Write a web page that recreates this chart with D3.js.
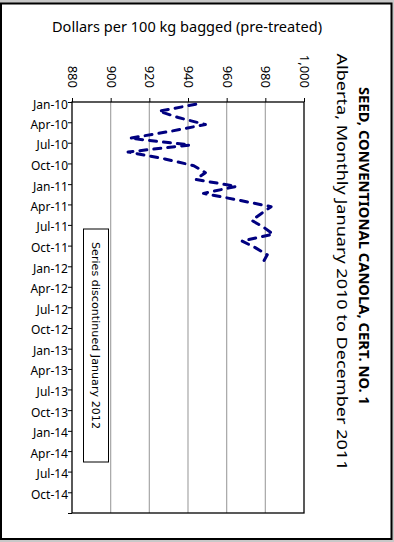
<!DOCTYPE html>
<html>
<head>
<meta charset="utf-8">
<script src="https://cdn.jsdelivr.net/npm/d3@7"></script>
<style>
  html, body { margin: 0; padding: 0; background: #c8c8c8; }
  svg { display: block; }
  text { font-family: "Noto Sans", "DejaVu Sans", sans-serif; fill: #000; }
</style>
</head>
<body>
<svg id="chart" width="394" height="542"></svg>
<script>
// ---- data ----
const months = ["2010-01","2010-02","2010-03","2010-04","2010-05","2010-06",
                "2010-07","2010-08","2010-09","2010-10","2010-11","2010-12",
                "2011-01","2011-02","2011-03","2011-04","2011-05","2011-06",
                "2011-07","2011-08","2011-09","2011-10","2011-11","2011-12"];
const prices = [944, 925, 935, 949, 931, 910, 941, 909, 928, 943, 949, 944,
                965, 948, 965, 983, 978, 973, 979, 984, 968, 975, 981, 979];
const valueTicks = [880, 900, 920, 940, 960, 980, 1000];
const gridValues = [900, 920, 940, 960, 980];
const axisTitle = "Dollars per 100 kg bagged (pre-treated)";
const title = "SEED, CONVENTIONAL CANOLA, CERT. NO. 1";
const subtitle = "Alberta, Monthly January 2010 to December 2011";
const note = "Series discontinued January 2012";

// ---- layout ----
const svg = d3.select("#chart");
const plot = {left: 72, right: 304, top: 102, bottom: 513};

svg.append("rect").attr("x", 1).attr("y", 3.5).attr("width", 390.5).attr("height", 535.5)
  .attr("fill", "#fff").attr("stroke", "#000").attr("stroke-width", 2);

const parse = d3.timeParse("%Y-%m-%d");
const data = months.map((m, i) => ({date: parse(m + "-11"), value: prices[i]}));

const x = d3.scaleLinear().domain([880, 1000]).range([plot.left, plot.right]);
const y = d3.scaleTime().domain([new Date(2010, 0, 1), new Date(2015, 0, 1)])
  .range([plot.top, plot.bottom]);

// gridlines
svg.append("g").selectAll("line").data(gridValues).join("line")
  .attr("x1", d => x(d)).attr("x2", d => x(d))
  .attr("y1", plot.top).attr("y2", plot.bottom)
  .attr("stroke", "#a6a6a6").attr("stroke-width", 1.2);

// value axis (top)
const topAxis = svg.append("g").attr("transform", `translate(0,${plot.top})`)
  .call(d3.axisTop(x).tickValues(valueTicks).tickSize(4).tickFormat(d3.format(",")));
topAxis.select(".domain").remove();
topAxis.selectAll("line").attr("stroke", "#000");
topAxis.selectAll("text")
  .attr("transform", "rotate(90)")
  .attr("x", -14).attr("y", 0).attr("dy", "0.35em")
  .attr("text-anchor", "end")
  .style("font-size", "13px")
  .style("font-family", "'Noto Sans', sans-serif");

// date axis (left)
const dateTicks = d3.timeMonth.every(3).range(new Date(2010, 0, 1), new Date(2015, 0, 2));
const fmt = d3.timeFormat("%b-%y");
const leftAxis = svg.append("g").attr("transform", `translate(${plot.left},0)`)
  .call(d3.axisLeft(y).tickValues(dateTicks).tickSize(4)
    .tickFormat(d => d.getFullYear() >= 2015 ? "" : fmt(d)));
leftAxis.select(".domain").remove();
leftAxis.selectAll("line").attr("stroke", "#000");
leftAxis.selectAll("text")
  .attr("x", -4).attr("dy", "0.5em")
  .style("font-size", "12px")
  .style("font-family", "'Noto Sans', sans-serif");

// plot frame
svg.append("rect").attr("x", plot.left).attr("y", plot.top)
  .attr("width", plot.right - plot.left).attr("height", plot.bottom - plot.top)
  .attr("fill", "none").attr("stroke", "#000").attr("stroke-width", 1.3);

// line
const line = d3.line().x(d => x(d.value)).y(d => y(d.date));
svg.append("path").datum(data)
  .attr("d", line)
  .attr("fill", "none").attr("stroke", "#000080").attr("stroke-width", 3)
  .attr("stroke-dasharray", "7,7").attr("stroke-linecap", "round")
  .attr("stroke-linejoin", "round");

// annotation box
svg.append("rect").attr("x", 83.5).attr("y", 229).attr("width", 25).attr("height", 233)
  .attr("fill", "#fff").attr("stroke", "#000").attr("stroke-width", 1);
svg.append("text")
  .attr("transform", "translate(96,242) rotate(90)")
  .attr("dy", "0.35em")
  .attr("text-anchor", "start")
  .attr("textLength", 187).attr("lengthAdjust", "spacingAndGlyphs")
  .style("font-family", "'DejaVu Sans', sans-serif")
  .style("font-size", "10.5px")
  .text(note);

// axis title
svg.append("text").attr("x", 187).attr("y", 32).attr("text-anchor", "middle")
  .attr("textLength", 270).attr("lengthAdjust", "spacingAndGlyphs")
  .style("font-size", "14.5px").text(axisTitle);

// chart title & subtitle (rotated)
svg.append("text").attr("transform", "translate(364,246) rotate(90)")
  .attr("text-anchor", "middle").attr("dy", "0.35em")
  .attr("textLength", 318).attr("lengthAdjust", "spacingAndGlyphs")
  .style("font-size", "14px").style("font-weight", "bold")
  .style("font-family", "'Noto Sans', sans-serif")
  .text(title);
svg.append("text").attr("transform", "translate(342,262) rotate(90)")
  .attr("text-anchor", "middle").attr("dy", "0.35em")
  .attr("textLength", 417).attr("lengthAdjust", "spacingAndGlyphs")
  .style("font-size", "15px")
  .style("font-family", "'Noto Sans', sans-serif")
  .text(subtitle);
</script>
</body>
</html>
